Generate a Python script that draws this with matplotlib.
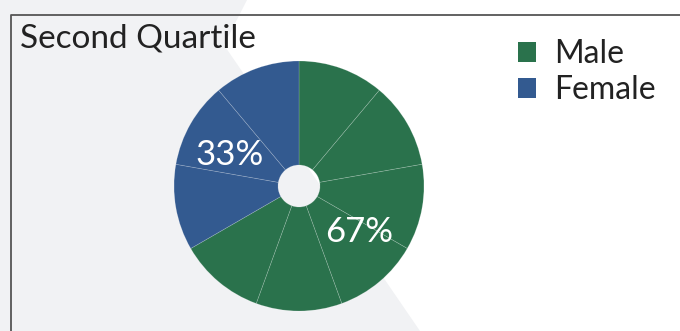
import matplotlib.pyplot as plt
from matplotlib.patches import Polygon, Patch
from matplotlib.lines import Line2D
import numpy as np

plt.rcParams['font.family'] = ['Lato', 'DejaVu Sans']

# data
title = "Second Quartile"
groups = ["Male", "Female"]
shares = [67, 33]           # percent
units = [6, 3]              # wedges per group (9 in all)
colors = ["#2a724c", "#335a90"]

W, H = 680, 331
fig = plt.figure(figsize=(W / 100, H / 100), dpi=100)
fig.patch.set_facecolor("white")

# grey shape behind everything (pixel coords -> figure fraction)
bg_px = [(0, 0), (247, 0), (224, 45), (420, 331), (0, 331)]
bg = Polygon([(x / W, 1 - y / H) for x, y in bg_px], closed=True,
             facecolor="#f1f2f4", edgecolor="none", transform=fig.transFigure, zorder=-5)
fig.patches.append(bg)

# frame line (top and left only visible)
fig.add_artist(Line2D([11 / W, 11 / W, 1], [0, 1 - 15 / H, 1 - 15 / H],
                      transform=fig.transFigure, color="#555555", lw=1.3, zorder=1))

fig.text(20 / W, 1 - 38 / H, title, fontsize=24, color="#222222",
         va="center", ha="left")

# pie
cx, cy, r = 299, 186, 125
ax = fig.add_axes([(cx - r) / W, (H - cy - r) / H, 2 * r / W, 2 * r / H])
ax.patch.set_alpha(0)

wedge_sizes = []
wedge_colors = []
for n, c in zip(units, colors):
    wedge_sizes += [1] * n
    wedge_colors += [c] * n

ax.pie(wedge_sizes, colors=wedge_colors, startangle=90, counterclock=False, radius=1,
       wedgeprops=dict(width=1 - 21 / 125, edgecolor=(1, 1, 1, 0.22), linewidth=0.5))
ax.set_xlim(-1, 1)
ax.set_ylim(-1, 1)
ax.axis("off")

label_angles = [-37.5, 156]
for s, a in zip(shares, label_angles):
    t = np.deg2rad(a)
    ax.text(0.61 * np.cos(t), 0.61 * np.sin(t), f"{s}%", color="white", fontsize=25,
            ha="center", va="center")

handles = [Patch(facecolor=c, edgecolor="none") for c in colors]
fig.legend(handles, groups, loc="upper left", bbox_to_anchor=(502 / W, 1 - 23 / H),
           frameon=False, fontsize=23, handlelength=0.57, handleheight=0.57,
           handletextpad=0.55, labelspacing=0.2, borderpad=0, labelcolor="#222222")

fig.savefig("out.png", dpi=100)
